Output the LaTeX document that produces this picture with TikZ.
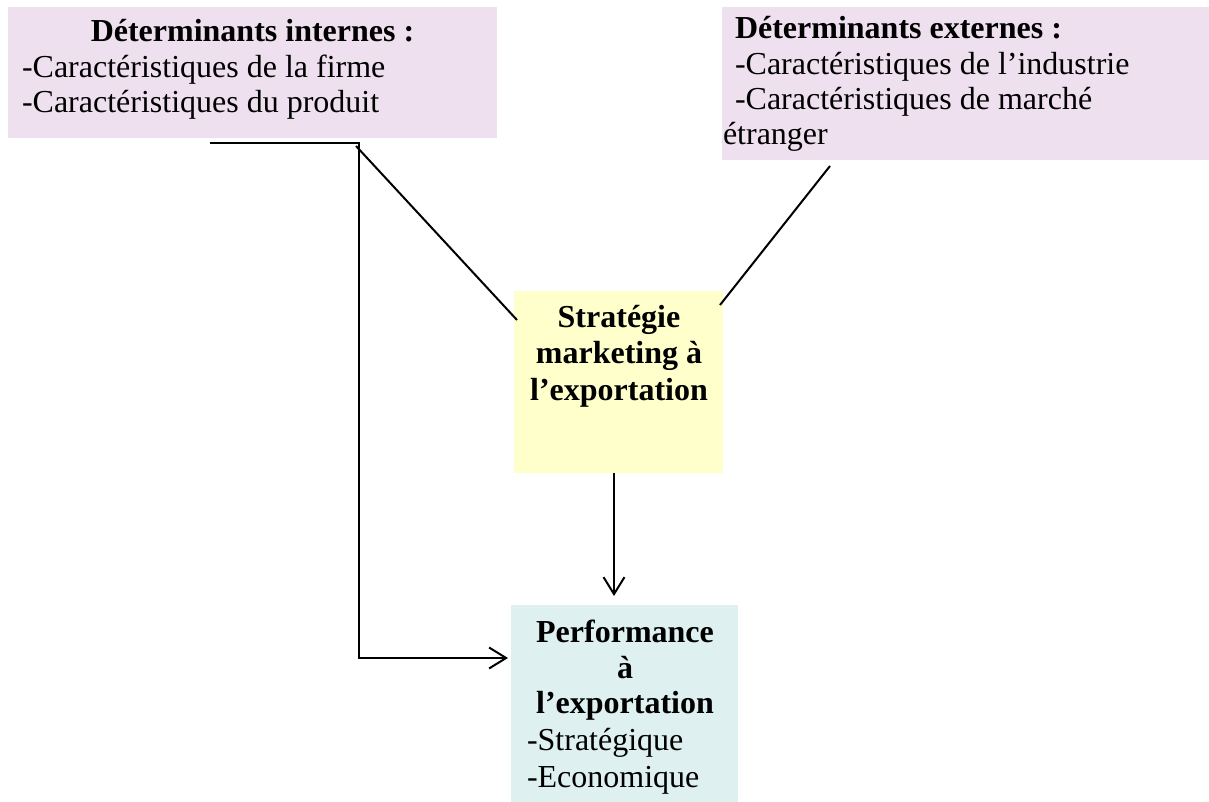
\documentclass[tikz,border=0pt]{standalone}
\usepackage{fontspec}
\setmainfont{Liberation Serif}
\usetikzlibrary{arrows.meta}
\definecolor{lavbox}{RGB}{238,224,238}
\definecolor{yelbox}{RGB}{255,255,204}
\definecolor{tealbox}{RGB}{222,240,240}
\begin{document}
\begin{tikzpicture}[x=1pt,y=-1pt,
  panel/.style={draw=none,inner sep=0pt,outer sep=0pt,anchor=north west},
  txt/.style={inner sep=0pt,outer sep=0pt,font=\fontsize{32}{36}\selectfont},
  link/.style={line width=2pt,draw=black},
  tip/.style={-{Straight Barb[length=17pt,width=21pt]}}]
\useasboundingbox (0,0) rectangle (1209,802);

% coloured panels
\node[panel,fill=lavbox,minimum width=489pt,minimum height=131pt] (intbox) at (8,7) {};
\node[panel,fill=lavbox,minimum width=487pt,minimum height=153pt] (extbox) at (722,7) {};
\node[panel,fill=yelbox,minimum width=209pt,minimum height=182pt] (strat) at (514,291) {};
\node[panel,fill=tealbox,minimum width=227pt,minimum height=197pt] (perf) at (511,605) {};

% internal determinants
\node[txt,anchor=base] (intT) at (252.5,42) {\bfseries Déterminants internes :};
\node[txt,anchor=base west] (intA) at (22,78) {-Caractéristiques de la firme};
\node[txt,anchor=base west] (intB) at (22,113) {-Caractéristiques du produit};

% external determinants
\node[txt,anchor=base west] (extT) at (735,39) {\bfseries Déterminants externes :};
\node[txt,anchor=base west] (extA) at (735,75) {-Caractéristiques de l’industrie};
\node[txt,anchor=base west] (extB) at (735,110) {-Caractéristiques de marché};
\node[txt,anchor=base west] (extC) at (723,145) {étranger};

% export marketing strategy
\node[txt,anchor=base] (stratA) at (619,327) {\bfseries Stratégie};
\node[txt,anchor=base] (stratB) at (619,363.5) {\bfseries marketing à};
\node[txt,anchor=base] (stratC) at (619,400) {\bfseries l’exportation};

% export performance
\node[txt,anchor=base] (perfA) at (625,642) {\bfseries Performance};
\node[txt,anchor=base] (perfB) at (625,678) {\bfseries à};
\node[txt,anchor=base] (perfC) at (625,713) {\bfseries l’exportation};
\node[txt,anchor=base west] (perfD) at (527,750) {-Stratégique};
\node[txt,anchor=base west] (perfE) at (527,787) {-Economique};

% connectors
\coordinate (hs) at (210,143);
\coordinate (jt) at (359,143);
\coordinate (es) at (830,166);
\draw[link,tip] (hs) -- (jt) |- ([xshift=-3pt]perf.west |- 0,658);
\draw[link] ([xshift=-3pt,yshift=-3pt]jt) -- ([xshift=3pt]strat.west |- 0,320);
\draw[link] (es) -- ([xshift=-3pt]strat.east |- 0,305);
\draw[link,tip] (614,473) -- (614,596);
\end{tikzpicture}
\end{document}
